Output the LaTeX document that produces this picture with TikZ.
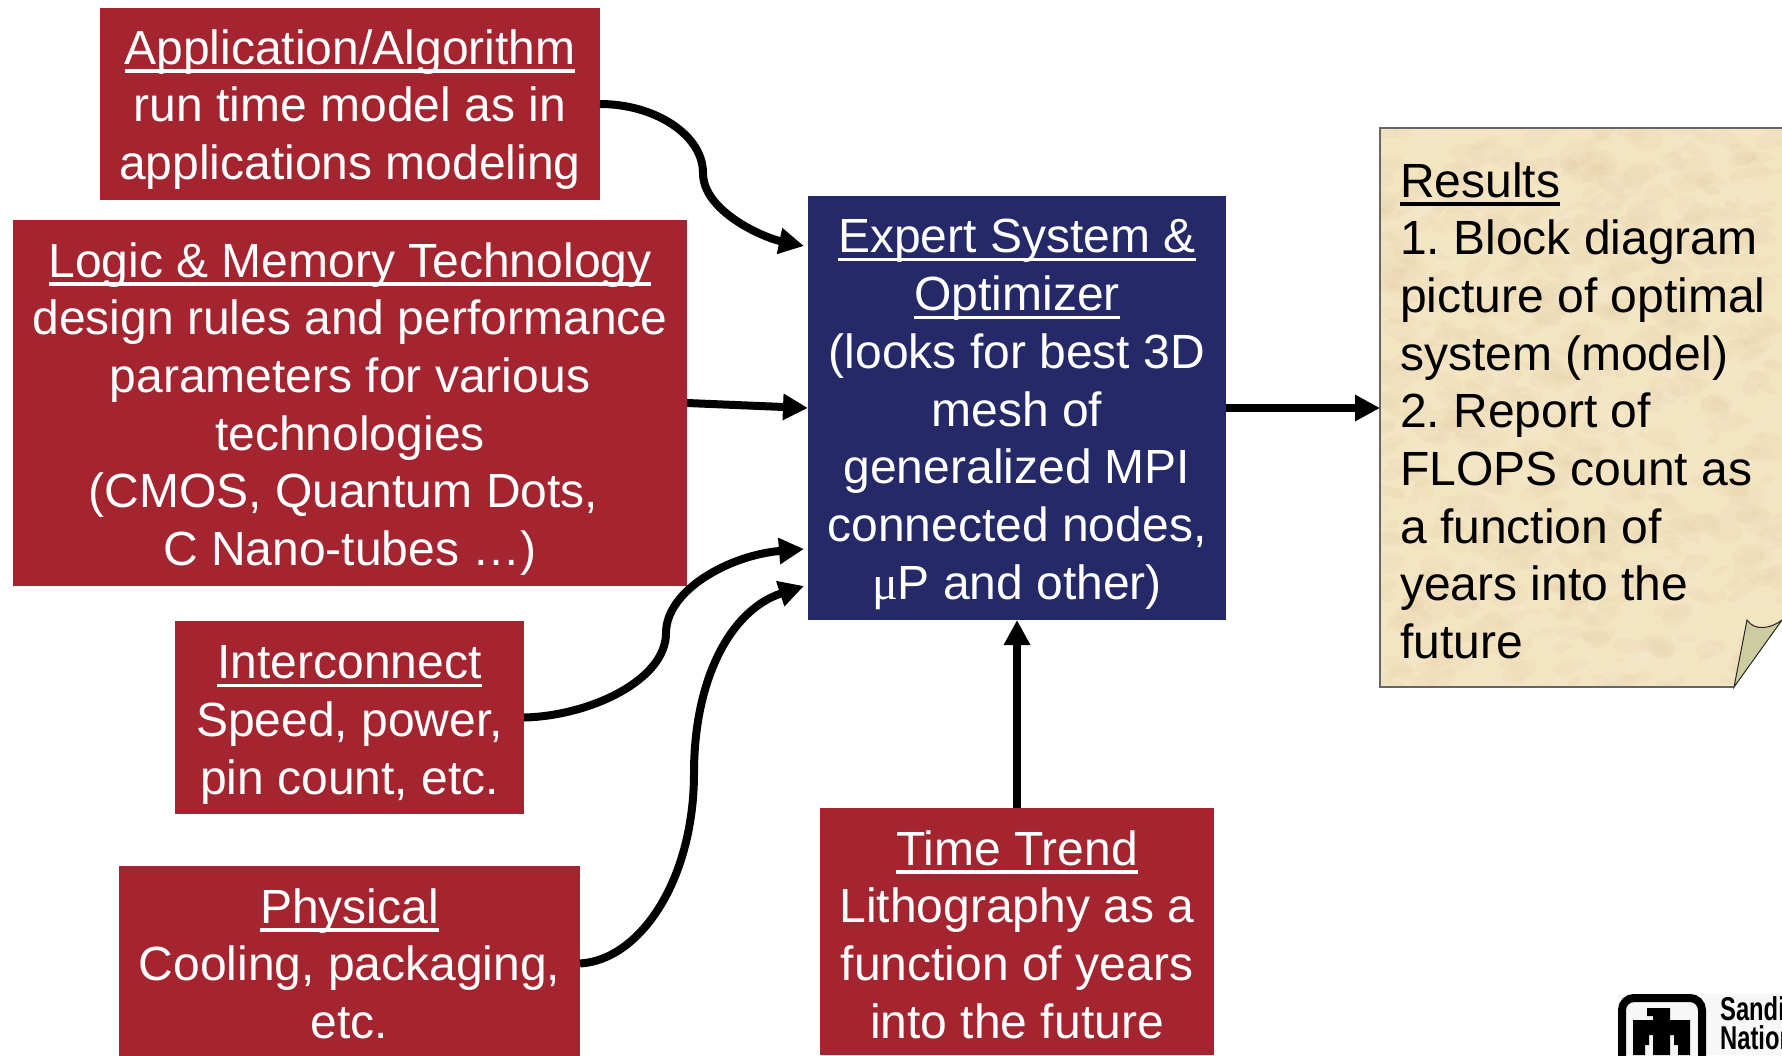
\documentclass[tikz,border=0pt]{standalone}
\usepackage{fontspec}
\setmainfont{Liberation Sans}
\newfontfamily\serifmu{Liberation Serif}
\usetikzlibrary{arrows.meta}
\definecolor{boxred}{RGB}{164,36,47}
\definecolor{boxblue}{RGB}{37,41,104}
\definecolor{parch}{RGB}{243,228,194}
\definecolor{foldc}{RGB}{204,204,160}
\newlength{\ulw}
\newcommand{\ul}[1]{\settowidth{\ulw}{#1}\leavevmode\rlap{\rule[-8.5pt]{\ulw}{3.5pt}}#1}
\newcommand{\tp}[1]{\rule{0pt}{#1pt}}
\newcommand{\bt}{\rule[-10pt]{0pt}{0pt}}
\tikzset{
  x=1pt,y=-1pt,
  txt/.style={font=\fontsize{48}{57.7}\selectfont\frenchspacing,align=center,inner sep=0pt,outer sep=0pt},
  redbox/.style={txt,fill=boxred,text=white,minimum width=#1},
  bluebox/.style={txt,fill=boxblue,text=white},
  conn/.style={line width=8pt,draw=black,-{Triangle[length=25pt,width=25pt]}},
}
\begin{document}
\begin{tikzpicture}
\useasboundingbox (0,0) rectangle (1782,1055);
\fill[white] (0,0) rectangle (1782,1055);
% input boxes
\node[redbox=500pt,minimum height=192pt] (app) at (350,104) {\tp{45.4}\ul{Application/Algorithm}\\run time model as in\\applications modeling\bt};
\node[redbox=674pt,minimum height=366pt] (logic) at (350,403) {\tp{46.7}\ul{Logic \& Memory Technology}\\design rules and performance\\parameters for various\\technologies\\(CMOS, Quantum Dots,\rule{13.3pt}{0pt}\\C Nano-tubes …)\bt};
\node[redbox=349pt,minimum height=193pt] (inter) at (349.5,717.5) {\tp{48}\ul{Interconnect}\\Speed, power,\\pin count, etc.\bt};
\node[redbox=461pt,minimum height=195pt] (phys) at (349.5,963.5) {\tp{44.4}\ul{Physical}\\Cooling, packaging,\\etc.\bt};
\node[bluebox,minimum width=418pt,minimum height=424pt] (expert) at (1017,408) {\tp{46.4}\ul{Expert System \&}\\\ul{Optimizer}\\(looks for best 3D\\mesh of\\generalized MPI\\connected nodes,\\{\serifmu μ}P and other)\bt};
\node[redbox=394pt,minimum height=247pt] (time) at (1017,931.5) {\tp{50.5}\ul{Time Trend}\\Lithography as a\\function of years\\into the future\bt};
% results sheet
\begin{scope}
\clip (1380,128) -- (1782,128) -- (1782,620) .. controls (1772,628) and (1755,632) .. (1747,620) -- (1734,687) -- (1380,687) -- cycle;
\fill[parch] (1380,128) rectangle (1782,688);
\pgfmathsetseed{7}
\foreach \i in {1,...,700}{
  \pgfmathsetmacro{\bx}{1380+402*rnd}
  \pgfmathsetmacro{\by}{128+560*rnd}
  \pgfmathsetmacro{\br}{4+16*rnd}
  \pgfmathsetmacro{\bs}{0.3+0.4*rnd}
  \pgfmathsetmacro{\ba}{-40+80*rnd}
  \fill[brown!60!parch,opacity=0.05,rotate around={\ba:(\bx,\by)}] (\bx,\by) ellipse [x radius=\br pt,y radius=\bs*\br pt];
}
\foreach \i in {1,...,350}{
  \pgfmathsetmacro{\bx}{1380+402*rnd}
  \pgfmathsetmacro{\by}{128+560*rnd}
  \pgfmathsetmacro{\br}{4+14*rnd}
  \pgfmathsetmacro{\ba}{-40+80*rnd}
  \fill[white,opacity=0.05,rotate around={\ba:(\bx,\by)}] (\bx,\by) ellipse [x radius=\br pt,y radius=0.5*\br pt];
}
\end{scope}
\draw[black!60,line width=1.5pt] (1782,128) -- (1380,128) -- (1380,687) -- (1734,687);
\fill[foldc,draw=black!85,line width=1pt] (1734,687) -- (1747,620) .. controls (1755,632) and (1772,628) .. (1782,620) -- cycle;
\node[txt,align=left,anchor=north west,text=black] (results) at (1400,157) {\tp{40}\ul{Results}\\1. Block diagram\\picture of optimal\\system (model)\\2. Report of\\FLOPS count as\\a function of\\years into the\\future};
% logo
\fill[black!3] (1618,994) rectangle (1782,1055);
\draw[black,line width=8pt,rounded corners=12pt] (1622,1075) -- (1622,998) -- (1702,998) -- (1702,1075);
\fill[black] (1647,1008) -- (1670,1008) -- (1670,1020) -- (1690,1020) -- (1690,1055) -- (1678,1055) -- (1678,1045) -- (1674,1045) -- (1674,1035) -- (1670,1035) -- (1670,1055) -- (1653,1055) -- (1653,1035) -- (1649,1035) -- (1649,1045) -- (1645,1045) -- (1645,1055) -- (1633,1055) -- (1633,1020) -- (1653,1020) -- (1653,1016) -- (1647,1016) -- cycle;
\node[font=\fontsize{33}{29}\selectfont\bfseries,align=left,xscale=0.72,anchor=north west,inner sep=0pt,transform shape] (logoname) at (1720,996) {Sandia\\National};
% connectors
\coordinate (inA) at (804,246);
\coordinate (inI) at (804,549);
\coordinate (inP) at (804,586);
\draw[conn] (app.east) .. controls (655,104) and (703,135) .. (703,173) .. controls (703,212) and (765,238) .. (inA);
\draw[conn] (logic.east) -- (expert.west);
\draw[conn] (inter.east) .. controls (590,716) and (666,680) .. (666,633) .. controls (666,590) and (730,555) .. (inI);
\draw[conn] (phys.east) .. controls (640,960) and (694,880) .. (694,773) .. controls (694,680) and (730,610) .. (inP);
\draw[conn] (expert.east) -- (1380,408);
\draw[conn] (time.north) -- (expert.south);
\end{tikzpicture}
\end{document}
